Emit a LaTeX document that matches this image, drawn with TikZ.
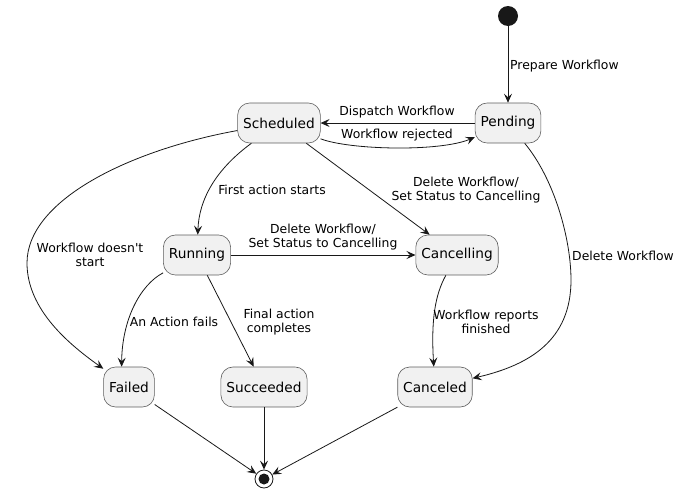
\documentclass[tikz,border=0pt]{standalone}
\usepackage{fontspec}
\setmainfont{DejaVu Sans}
\setmonofont{DejaVu Sans}
\usetikzlibrary{arrows.meta}
\definecolor{boxfill}{HTML}{F1F1F1}
\definecolor{ink}{HTML}{181818}

\begin{document}
\begin{tikzpicture}[x=1pt,y=-1pt,
  state/.style={draw=ink!70,fill=boxfill,line width=0.6pt,rounded corners=12pt,
    minimum height=40pt,inner xsep=5.5pt,font=\fontsize{13.7}{16}\selectfont},
  lbl/.style={align=center,inner sep=0pt,font=\fontsize{12.4}{14.5}\selectfont},
  edge/.style={ink,line width=0.8pt,-{Stealth[length=9pt,width=8pt,inset=3.5pt]}}]
\useasboundingbox (0,0) rectangle (681,493);

\node[circle,fill=ink,minimum size=20pt,inner sep=0pt] (init) at (508,16) {};
\node[state] (pending) at (508,123) {Pending};
\node[state] (sched) at (279,123) {Scheduled};
\node[state] (running) at (197,255) {Running};
\node[state] (cancelling) at (457,255) {Cancelling};
\node[state] (failed) at (129,387) {Failed};
\node[state] (succeeded) at (264,387) {Succeeded};
\node[state] (canceled) at (435,387) {Canceled};
\node[circle,draw=ink,line width=0.8pt,minimum size=18pt,inner sep=0pt] (final) at (264,479) {};
\fill[ink] (final) circle[radius=5.5pt];

%(x,y) in pixels, y down
\draw[edge] (init) -- (pending);
\draw[edge] (pending) -- (sched);
\draw[edge] (sched) .. controls (350,150) and (440,152) .. (pending);
\draw[edge] (sched) .. controls (215,170) and (199,200) .. (running);
\draw[edge] (sched) -- (cancelling);
\draw[edge] (sched) .. controls (130,150) and (27,200) .. (27,263) .. controls (27,310) and (70,345) .. (failed);
\draw[edge] (running) -- (cancelling);
\draw[edge] (running) .. controls (140,285) and (122,320) .. (failed.110);
\draw[edge] (running) -- (succeeded);
\draw[edge] (cancelling) .. controls (435,295) and (431,320) .. (canceled);
\draw[edge] (pending) .. controls (555,180) and (571,240) .. (571,280) .. controls (571,340) and (530,365) .. (canceled);
\draw[edge] (failed) -- (final);
\draw[edge] (succeeded) -- (final);
\draw[edge] (canceled) -- (final);

\node[lbl,anchor=west] (lprepare) at (510,66) {Prepare Workflow};
\node[lbl] (ldispatch) at (397,112) {Dispatch Workflow};
\node[lbl] (lrejected) at (397,135) {Workflow rejected};
\node[lbl] (lfirst) at (272,190) {First action starts};
\node[lbl] (ldelsched) at (466,190) {Delete Workflow/\\Set Status to Cancelling};
\node[lbl] (ldelrun) at (323,237) {Delete Workflow/\\Set Status to Cancelling};
\node[lbl] (lnostart) at (90,255) {Workflow doesn{\ttfamily'}t\\start};
\node[lbl] (lfails) at (174,322) {An Action fails};
\node[lbl] (lcompletes) at (279,322) {Final action\\completes};
\node[lbl] (lreports) at (486,322) {Workflow reports\\finished};
\node[lbl,anchor=west] (ldelpend) at (572,256) {Delete Workflow};
\end{tikzpicture}
\end{document}
